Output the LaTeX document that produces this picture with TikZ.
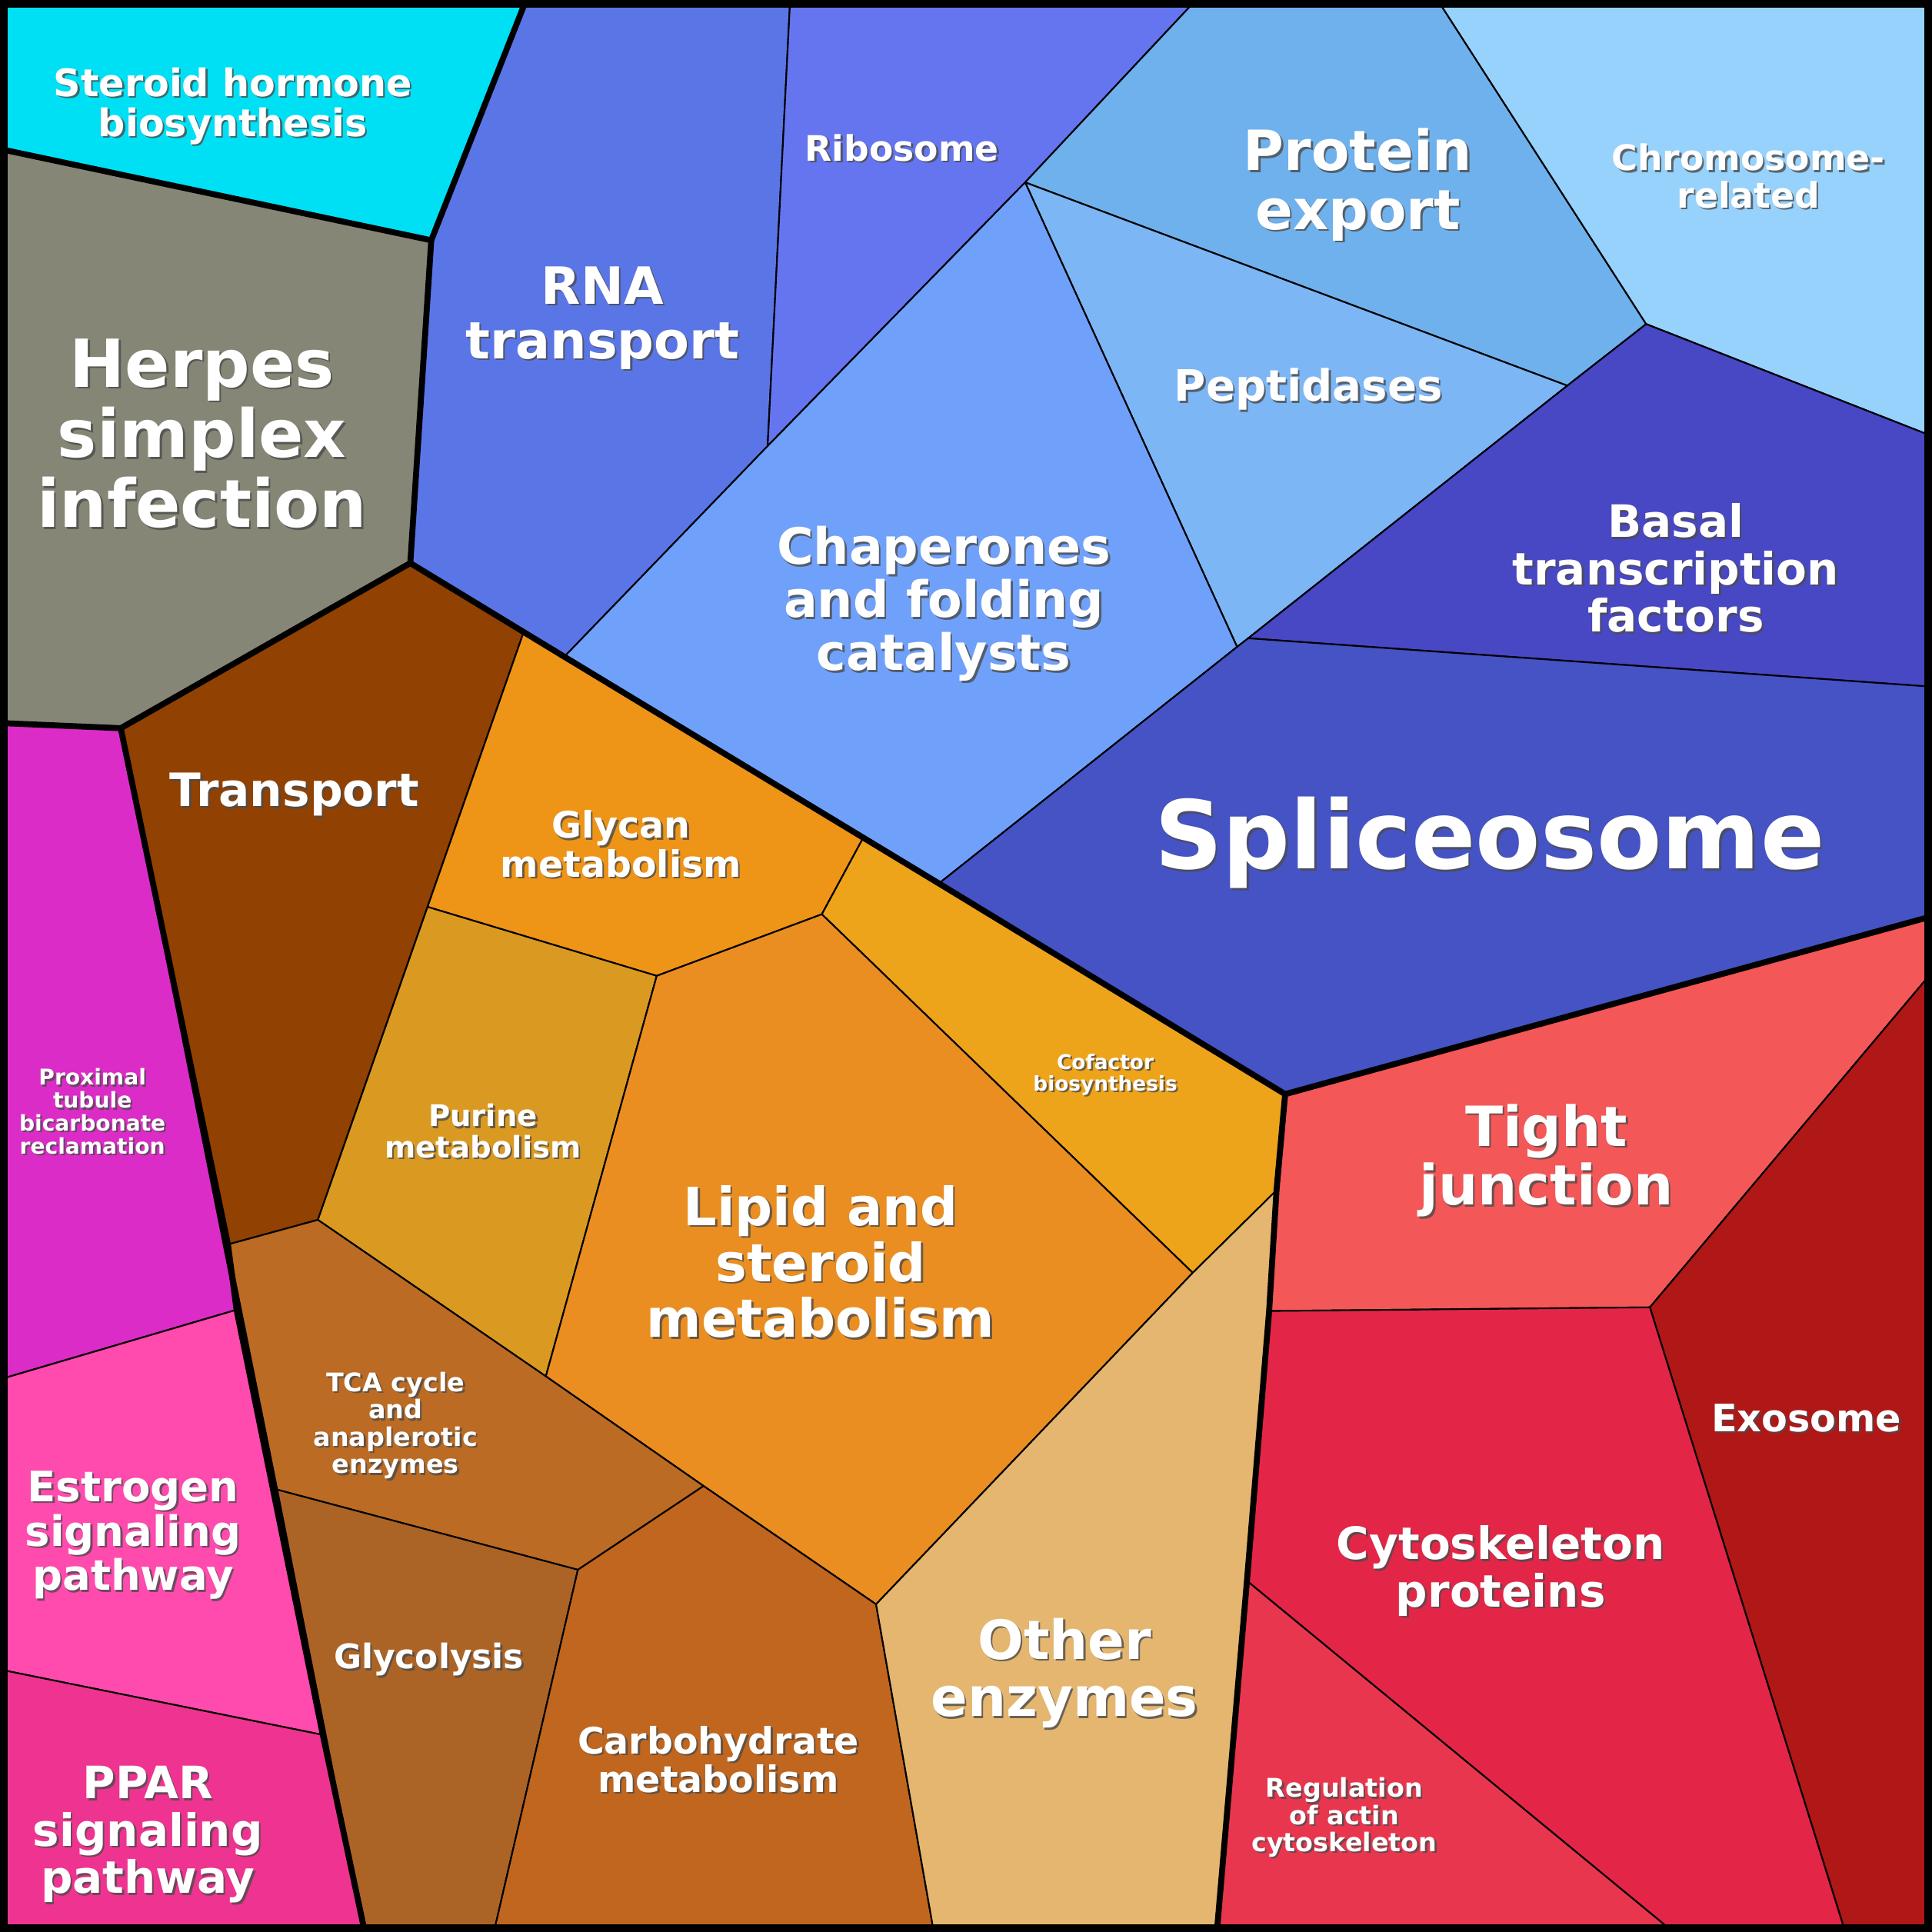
\documentclass[tikz,border=0pt]{standalone}
\usepackage{fontspec}
\setmainfont{DejaVu Sans}
\begin{document}
\newcommand{\lab}[5][]{%
\pgfmathsetmacro\mybs{#4*1.06}%
\node[text=black!70,opacity=0.8,align=center,font=\bfseries\fontsize{#4}{\mybs}\selectfont] at ([shift={(1.5,1.5)}]#2,#3) {#5};
\node[text=white,align=center,font=\bfseries\fontsize{#4}{\mybs}\selectfont] (#1) at (#2,#3) {#5};}
\begin{tikzpicture}[x=0.01602cm,y=-0.01602cm,line join=round]
\tikzset{cell/.style={draw=black,line width=0.6pt},grp/.style={line width=2.2pt,line cap=round}}
\useasboundingbox (0,0) rectangle (1568,1568);
\fill[black] (0,0) rectangle (1568,1568);
\definecolor{c1}{HTML}{00E0F5}\definecolor{c2}{HTML}{868676}\definecolor{c3}{HTML}{5A76E6}
\definecolor{c4}{HTML}{6575F0}\definecolor{c5}{HTML}{6FB1EC}\definecolor{c6}{HTML}{96D2FC}
\definecolor{c7}{HTML}{7DB6F5}\definecolor{c8}{HTML}{70A1FA}\definecolor{c9}{HTML}{4847C4}
\definecolor{c10}{HTML}{4553C4}\definecolor{c11}{HTML}{914102}\definecolor{c12}{HTML}{EE9417}
\definecolor{c13}{HTML}{EEA41A}\definecolor{c14}{HTML}{DA9A22}\definecolor{c15}{HTML}{EA8E21}
\definecolor{c16}{HTML}{E4B66F}\definecolor{c17}{HTML}{BB6B23}\definecolor{c18}{HTML}{AC6426}
\definecolor{c19}{HTML}{C0661E}\definecolor{c20}{HTML}{DC2CC8}\definecolor{c21}{HTML}{FF4AAE}
\definecolor{c22}{HTML}{EE3490}\definecolor{c23}{HTML}{F45757}\definecolor{c24}{HTML}{B01717}
\definecolor{c25}{HTML}{E32648}\definecolor{c26}{HTML}{E9364F}
\filldraw[cell,fill=c1] (5,5)--(425,5)--(350,195)--(5,122)--cycle;
\filldraw[cell,fill=c2] (5,122)--(350,195)--(333,457)--(98,591)--(5,587)--cycle;
\filldraw[cell,fill=c3] (425,5)--(641,5)--(623,362)--(458,533)--(333,457)--(350,195)--cycle;
\filldraw[cell,fill=c4] (641,5)--(966,5)--(832,148)--(623,362)--cycle;
\filldraw[cell,fill=c5] (966,5)--(1170,5)--(1336,263)--(1272,313)--(832,148)--cycle;
\filldraw[cell,fill=c6] (1170,5)--(1563,5)--(1563,352)--(1336,263)--cycle;
\filldraw[cell,fill=c7] (832,148)--(1272,313)--(1013,518)--(1004,525)--cycle;
\filldraw[cell,fill=c8] (623,362)--(832,148)--(1004,525)--(762,717)--(458,533)--cycle;
\filldraw[cell,fill=c9] (1336,263)--(1563,352)--(1563,557)--(1013,518)--(1272,313)--cycle;
\filldraw[cell,fill=c10] (1013,518)--(1563,557)--(1563,745)--(1043,888)--(762,717)--(1004,525)--cycle;
\filldraw[cell,fill=c11] (98,591)--(333,457)--(425,513)--(258,990)--(185,1010)--cycle;
\filldraw[cell,fill=c12] (425,513)--(700,681)--(667,742)--(533,792)--(347,736)--cycle;
\filldraw[cell,fill=c13] (700,681)--(1043,888)--(1036,966)--(968,1033)--(667,742)--cycle;
\filldraw[cell,fill=c14] (347,736)--(533,792)--(443,1117)--(258,990)--cycle;
\filldraw[cell,fill=c15] (533,792)--(667,742)--(968,1033)--(711,1302)--(571,1206)--(443,1117)--cycle;
\filldraw[cell,fill=c20] (5,587)--(98,591)--(192,1063)--(5,1118)--cycle;
\filldraw[cell,fill=c21] (5,1118)--(192,1063)--(262,1408)--(5,1356)--cycle;
\filldraw[cell,fill=c22] (5,1356)--(262,1408)--(295,1563)--(5,1563)--cycle;
\filldraw[cell,fill=c17] (185,1010)--(258,990)--(443,1117)--(571,1206)--(469,1274)--(225,1209)--cycle;
\filldraw[cell,fill=c18] (225,1209)--(469,1274)--(402,1563)--(295,1563)--cycle;
\filldraw[cell,fill=c19] (469,1274)--(571,1206)--(711,1302)--(757,1563)--(402,1563)--cycle;
\filldraw[cell,fill=c16] (968,1033)--(1036,966)--(1030,1064)--(1012,1283)--(988,1563)--(757,1563)--(711,1302)--cycle;
\filldraw[cell,fill=c23] (1043,888)--(1563,745)--(1563,795)--(1339,1061)--(1030,1064)--(1036,966)--cycle;
\filldraw[cell,fill=c24] (1563,795)--(1563,1563)--(1496,1563)--(1339,1061)--cycle;
\filldraw[cell,fill=c25] (1030,1064)--(1339,1061)--(1496,1563)--(1352,1563)--(1012,1283)--cycle;
\filldraw[cell,fill=c26] (1012,1283)--(1352,1563)--(988,1563)--cycle;
\draw[grp] (5,122)--(350,195)--(425,5);
\draw[grp] (350,195)--(333,457)--(98,591)--(5,587);
\draw[grp] (333,457)--(458,533)--(762,717)--(1043,888)--(1563,745);
\draw[grp] (1043,888)--(1036,966)--(1030,1064)--(1012,1283)--(988,1563);
\draw[grp] (98,591)--(185,1010)--(192,1063)--(262,1408)--(295,1563);
\draw[line width=3pt] (3,3) rectangle (1565,1565);
\lab[t1]{189}{86}{14}{Steroid hormone\\biosynthesis}
\lab[t2]{164}{352}{24.5}{Herpes\\simplex\\infection}
\lab[t3]{489}{258}{19}{RNA\\transport}
\lab[t4]{732}{120}{13}{Ribosome}
\lab[t5]{1102}{150}{20.5}{Protein\\export}
\lab[t6]{1419}{143}{13}{Chromosome-\\related}
\lab[t7]{1062}{316}{16}{Peptidases}
\lab[t8]{766}{490}{18.5}{Chaperones\\and folding\\catalysts}
\lab[t9]{1360}{461}{16.5}{Basal\\transcription\\factors}
\lab[t10]{1209}{684}{35}{Spliceosome}
\lab[t11]{239}{645}{17}{Transport}
\lab[t12]{504}{685}{13.5}{Glycan\\metabolism}
\lab[t13]{897}{872}{7.5}{Cofactor\\biosynthesis}
\lab[t14]{392}{918}{11}{Purine\\metabolism}
\lab[t15]{666}{1024}{19.5}{Lipid and\\steroid\\metabolism}
\lab[t16]{75}{902}{8}{Proximal\\tubule\\bicarbonate\\reclamation}
\lab[t17]{108}{1246}{15.5}{Estrogen\\signaling\\pathway}
\lab[t18]{120}{1489}{16.5}{PPAR\\signaling\\pathway}
\lab[t19]{321}{1157}{9.5}{TCA cycle\\and\\anaplerotic\\enzymes}
\lab[t20]{348}{1347}{12.5}{Glycolysis}
\lab[t21]{583}{1428}{13.5}{Carbohydrate\\metabolism}
\lab[t22]{864}{1358}{20}{Other\\enzymes}
\lab[t23]{1255}{942}{20.5}{Tight\\junction}
\lab[t24]{1466}{1151}{14}{Exosome}
\lab[t25]{1218}{1275}{16.5}{Cytoskeleton\\proteins}
\lab[t26]{1091}{1475}{9.5}{Regulation\\of actin\\cytoskeleton}
\end{tikzpicture}
\end{document}
